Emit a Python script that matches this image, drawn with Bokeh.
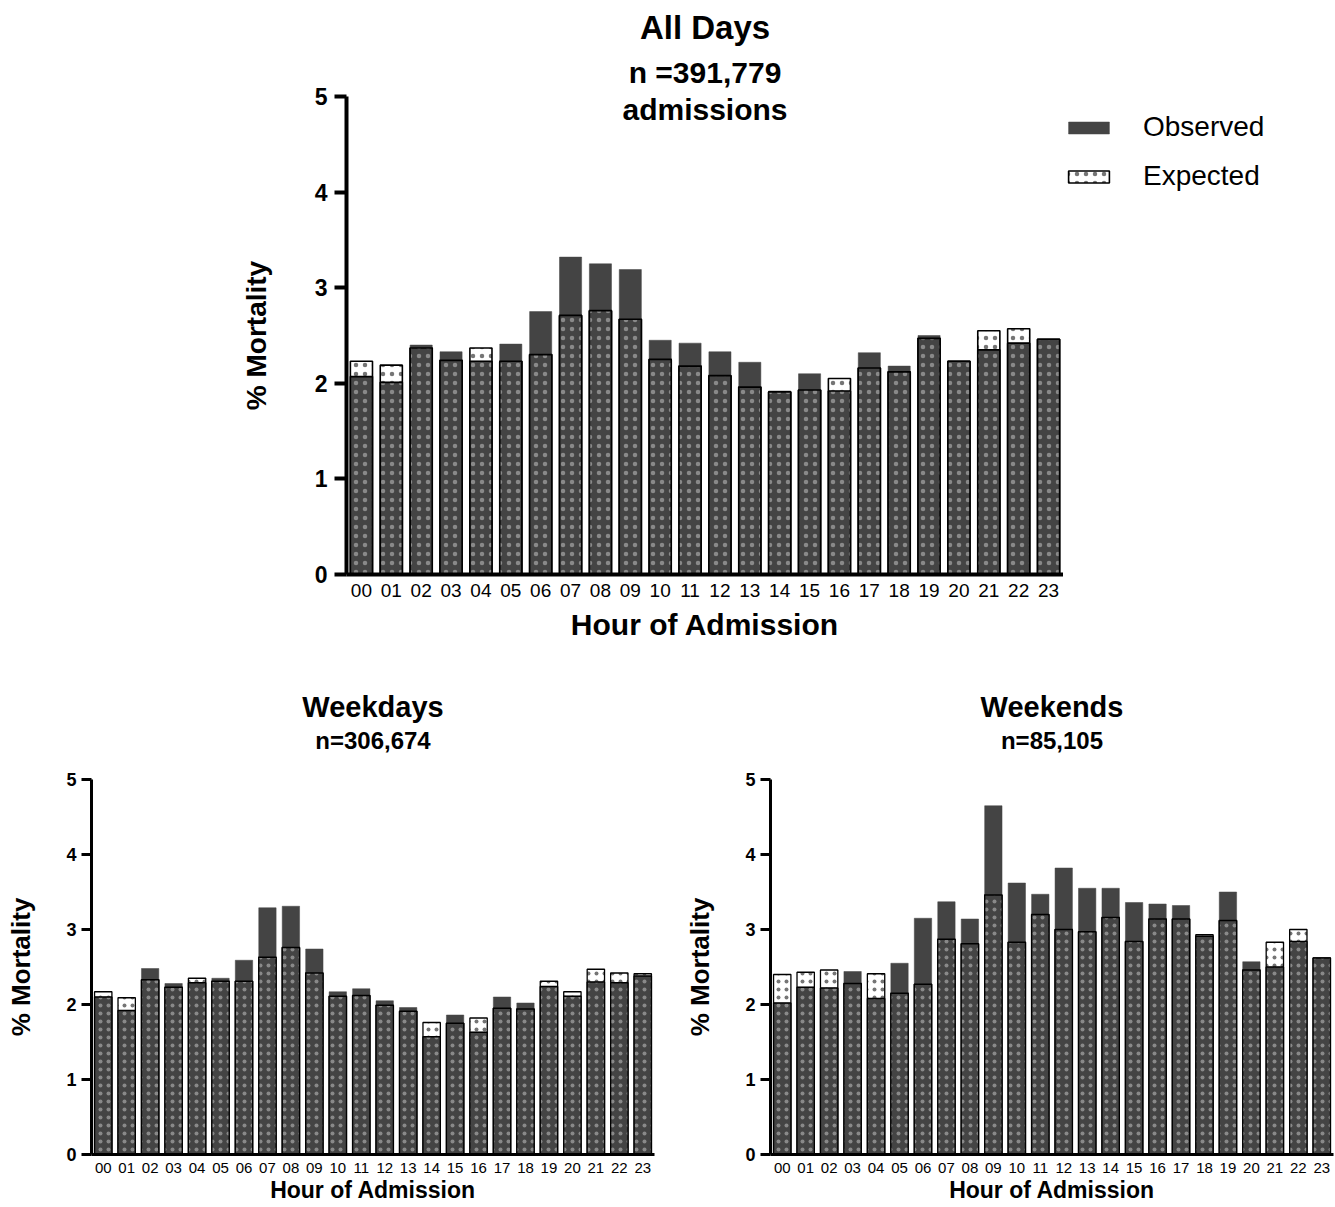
from bokeh.plotting import figure
from bokeh.models import (ColumnDataSource, FixedTicker, Label, Legend, LegendItem,
                          Range1d, Title)
from bokeh.layouts import column, row
from bokeh.embed import file_html
from bokeh.resources import INLINE

# ---------------- data ----------------
hours = ["00", "01", "02", "03", "04", "05", "06", "07", "08", "09", "10", "11",
         "12", "13", "14", "15", "16", "17", "18", "19", "20", "21", "22", "23"]

all_observed = [2.07, 2.01, 2.40, 2.33, 2.23, 2.41, 2.75, 3.32, 3.25, 3.19, 2.45, 2.42,
                2.33, 2.22, 1.92, 2.10, 1.92, 2.32, 2.18, 2.50, 2.23, 2.35, 2.42, 2.46]
all_expected = [2.23, 2.19, 2.37, 2.24, 2.37, 2.23, 2.30, 2.71, 2.76, 2.67, 2.25, 2.18,
                2.08, 1.96, 1.91, 1.93, 2.05, 2.16, 2.12, 2.47, 2.23, 2.55, 2.57, 2.46]

weekday_observed = [2.10, 1.92, 2.48, 2.28, 2.29, 2.35, 2.59, 3.29, 3.31, 2.74, 2.17, 2.21,
                    2.05, 1.96, 1.57, 1.86, 1.63, 2.10, 2.02, 2.24, 2.11, 2.30, 2.29, 2.38]
weekday_expected = [2.17, 2.09, 2.33, 2.23, 2.35, 2.31, 2.31, 2.63, 2.76, 2.42, 2.11, 2.12,
                    1.99, 1.91, 1.76, 1.75, 1.82, 1.95, 1.94, 2.31, 2.17, 2.47, 2.42, 2.41]

weekend_observed = [2.02, 2.23, 2.22, 2.44, 2.08, 2.55, 3.15, 3.37, 3.14, 4.65, 3.62, 3.47,
                    3.82, 3.55, 3.55, 3.36, 3.34, 3.32, 2.91, 3.50, 2.57, 2.50, 2.84, 2.62]
weekend_expected = [2.40, 2.43, 2.46, 2.28, 2.41, 2.15, 2.27, 2.87, 2.81, 3.46, 2.83, 3.20,
                    3.00, 2.97, 3.16, 2.84, 3.14, 3.14, 2.93, 3.12, 2.46, 2.83, 3.00, 2.62]

y_ticks = [0, 1, 2, 3, 4, 5]
Y_MAX = 5
legend_labels = ["Observed", "Expected"]

FONT = "Liberation Sans"
DARK = "#444444"
X_START, X_END = -0.5, len(hours) - 0.5


def exp_style(st):
    return dict(fill_color="white", line_color="black", line_width=st["bar_lw"],
                hatch_pattern="dot", hatch_color="#666666", hatch_alpha=0.9,
                hatch_scale=st["hatch"], hatch_weight=1)


OBS_STYLE = dict(fill_color=DARK, line_color=DARK, line_width=0.5)


def base_fig(width, height, bl, br, bt, bb, axes=True):
    kw = {} if axes else dict(x_axis_type=None, y_axis_type=None)
    p = figure(width=width, height=height, title=None,
               x_range=Range1d(X_START, X_END), y_range=Range1d(0, Y_MAX),
               output_backend="svg", toolbar_location=None,
               min_border_left=bl, min_border_right=br,
               min_border_top=bt, min_border_bottom=bb,
               outline_line_color=None, background_fill_color="white",
               border_fill_color="white", **kw)
    p.grid.visible = False
    return p


def make_source(obs, exp):
    xs = list(range(len(hours)))
    lo = [min(o, e) for o, e in zip(obs, exp)]
    return ColumnDataSource(dict(x=xs, obs=obs, exp=exp, lo=lo))


def make_chart(obs, exp, width, height, bl, br, bt, bb, st):
    p = base_fig(width, height, bl, br, bt, bb)
    src = make_source(obs, exp)
    bw = 0.74
    p.vbar(x="x", top="exp", bottom=0, width=bw, source=src, **exp_style(st))
    p.vbar(x="x", top="obs", bottom=0, width=bw, source=src, **OBS_STYLE)
    p.vbar(x="x", top="lo", bottom=0, width=bw, source=src,
           fill_color=None, line_color="black", line_width=st["bar_lw"],
           hatch_pattern="dot", hatch_color="#9a9a9a", hatch_alpha=0.8,
           hatch_scale=st["hatch"], hatch_weight=1)

    xa = p.xaxis[0]
    xa.ticker = FixedTicker(ticks=list(range(len(hours))))
    xa.major_label_overrides = {i: h for i, h in enumerate(hours)}
    xa.major_tick_line_color = None
    xa.minor_tick_line_color = None
    xa.axis_line_width = st["axis_lw"]
    xa.axis_line_color = "black"
    xa.major_label_text_font = FONT
    xa.major_label_text_font_size = st["xtick_fs"]
    xa.major_label_text_color = "black"
    xa.major_label_standoff = st["xtick_so"]
    xa.axis_label = "Hour of Admission"
    xa.axis_label_text_font = FONT
    xa.axis_label_text_font_style = "bold"
    xa.axis_label_text_font_size = st["xlab_fs"]
    xa.axis_label_text_color = "black"
    xa.axis_label_standoff = st["xlab_so"]

    ya = p.yaxis[0]
    ya.ticker = FixedTicker(ticks=y_ticks)
    ya.minor_tick_line_color = None
    ya.major_tick_in = 0
    ya.major_tick_out = st["ytick_len"]
    ya.major_tick_line_width = st["axis_lw"]
    ya.axis_line_width = st["axis_lw"]
    ya.major_label_text_font = FONT
    ya.major_label_text_font_style = "bold"
    ya.major_label_text_font_size = st["ytick_fs"]
    ya.major_label_text_color = "black"
    ya.major_label_standoff = st["ytick_so"]
    ya.axis_label = "% Mortality"
    ya.axis_label_text_font = FONT
    ya.axis_label_text_font_style = "bold"
    ya.axis_label_text_font_size = st["ylab_fs"]
    ya.axis_label_text_color = "black"
    ya.axis_label_standoff = st["ylab_so"]
    return p


def add_label(p, text, y, size):
    p.add_layout(Label(x=(X_START + X_END) / 2, y=y, x_units="data", y_units="screen",
                       text=text, text_align="center", text_baseline="middle",
                       text_font=FONT, text_font_style="bold",
                       text_font_size=size, text_color="black"))


top_style = dict(bar_lw=1.6, hatch=9, axis_lw=4, xtick_fs="19px", xtick_so=3,
                 xlab_fs="30px", xlab_so=8, ytick_len=12, ytick_fs="23px", ytick_so=7,
                 ylab_fs="28px", ylab_so=40)
bot_style = dict(bar_lw=1.3, hatch=8, axis_lw=3, xtick_fs="15px", xtick_so=2,
                 xlab_fs="23px", xlab_so=1, ytick_len=10, ytick_fs="18px", ytick_so=5,
                 ylab_fs="26px", ylab_so=27)

# ---- top chart (frame 346..1063 x 96..574) with stacked titles ----
TOP_H = 650
top = make_chart(all_observed, all_expected, 1063, TOP_H, 346, 0, 96, 76, top_style)
top.add_layout(Title(text="n =391,779", align="center", text_font=FONT,
                     text_font_style="bold", text_font_size="30px",
                     text_color="black", standoff=15), "above")
top.add_layout(Title(text="All Days", align="center", text_font=FONT,
                     text_font_style="bold", text_font_size="33px",
                     text_color="black", standoff=1), "above")
add_label(top, "admissions", 465, "30px")

# ---- legend panel to the right of the top chart (frame aligned with chart frame) ----
# The legend figure holds hidden copies of the two series; only their legend is shown.
leg_fig = base_fig(272, TOP_H, 0, 0, 0, 0, axes=False)
leg_src = make_source(all_observed, all_expected)
r_obs = leg_fig.vbar(x="x", top="obs", width=0.74, source=leg_src, **OBS_STYLE)
r_exp = leg_fig.vbar(x="x", top="exp", width=0.74, source=leg_src, **exp_style(top_style))
r_obs.visible = False
r_exp.visible = False
legend = Legend(items=[LegendItem(label=legend_labels[0], renderers=[r_obs]),
                       LegendItem(label=legend_labels[1], renderers=[r_exp])],
                location=(0, 382), orientation="vertical", click_policy="none",
                inactive_fill_alpha=0,
                label_text_font=FONT, label_text_font_size="28px", label_text_color="black",
                label_height=32, glyph_height=15, glyph_width=51, label_standoff=29,
                spacing=17, padding=0, margin=0,
                border_line_color=None, background_fill_alpha=0)
leg_fig.add_layout(legend, "center")

# ---- bottom: title strips + charts (frames 375 px tall, top at 779) ----
L_W, L_L, L_R = 670, 91, 16
R_W, R_L, R_R = 665, 100, 2

left_title = base_fig(L_W, 119, L_L, L_R, 0, 0, axes=False)
add_label(left_title, "Weekdays", 63, "29px")
add_label(left_title, "n=306,674", 29, "24px")

right_title = base_fig(R_W, 119, R_L, R_R, 0, 0, axes=False)
add_label(right_title, "Weekends", 63, "29px")
add_label(right_title, "n=85,105", 29, "24px")

left = make_chart(weekday_observed, weekday_expected, L_W, 438, L_L, L_R, 10, 53, bot_style)
right = make_chart(weekend_observed, weekend_expected, R_W, 438, R_L, R_R, 10, 53, bot_style)

layout = column(row(top, leg_fig, spacing=0),
                row(left_title, right_title, spacing=0),
                row(left, right, spacing=0),
                spacing=0)

open("out.html", "w").write(file_html(layout, INLINE))
